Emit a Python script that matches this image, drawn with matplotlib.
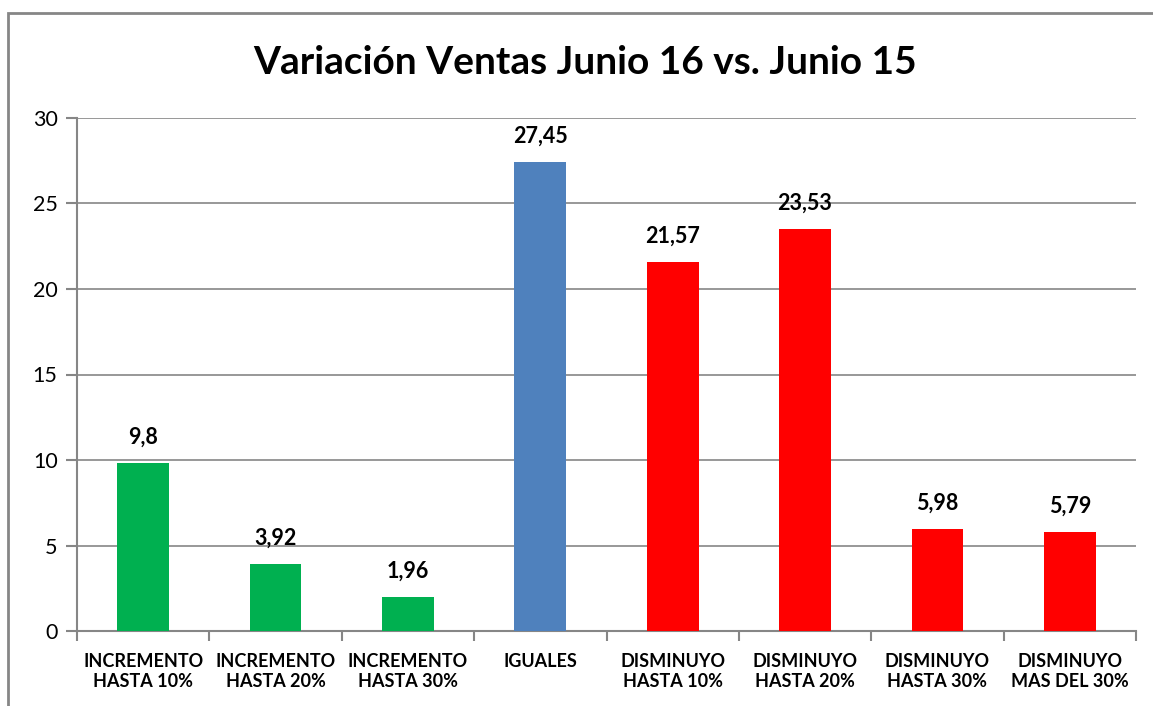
import matplotlib.pyplot as plt
from matplotlib.patches import Rectangle

categories = ["INCREMENTO\nHASTA 10%", "INCREMENTO\nHASTA 20%", "INCREMENTO\nHASTA 30%", "IGUALES",
              "DISMINUYO\nHASTA 10%", "DISMINUYO\nHASTA 20%", "DISMINUYO\nHASTA 30%", "DISMINUYO\nMAS DEL 30%"]
values = [9.8, 3.92, 1.96, 27.45, 21.57, 23.53, 5.98, 5.79]
value_labels = ["9,8", "3,92", "1,96", "27,45", "21,57", "23,53", "5,98", "5,79"]
colors = ["#00B050", "#00B050", "#00B050", "#4F81BD", "#FF0000", "#FF0000", "#FF0000", "#FF0000"]

plt.rcParams['font.family'] = ['Lato', 'DejaVu Sans']

fig = plt.figure(figsize=(11.53, 7.06), dpi=100)
fig.patches.append(Rectangle((8 / 1153, -0.1), 1.2, 1 - 13 / 706 + 0.1, transform=fig.transFigure,
                             fill=False, edgecolor='#868686', linewidth=2))
ax = fig.add_axes([77 / 1153, 1 - 631 / 706, (1136 - 77) / 1153, (631 - 118) / 706])

x = range(len(values))
ax.bar(x, values, width=0.39, color=colors, zorder=3)
for i, v in enumerate(values):
    ax.text(i, v + 0.9, value_labels[i], ha='center', va='bottom', fontsize=15.5, fontweight='bold')

ax.set_xlim(-0.5, len(values) - 0.5)
ax.set_ylim(0, 30)
ax.set_yticks([0, 5, 10, 15, 20, 25, 30])
ax.set_xticks(x)
ax.set_xticklabels(categories, fontsize=13, fontweight='bold', linespacing=1.2)
ax.set_xticks([i - 0.5 for i in range(len(values) + 1)], minor=True)
ax.tick_params(axis='x', which='major', length=0, pad=16)
ax.tick_params(axis='x', which='minor', length=7, color='#868686', width=1.5)
ax.tick_params(axis='y', length=8, color='#868686', width=1.5, labelsize=15.5, pad=6)
ax.grid(axis='y', color='#868686', linewidth=1.2, zorder=0)
for s in ['top', 'right']:
    ax.spines[s].set_visible(False)
for s in ['left', 'bottom']:
    ax.spines[s].set_color('#868686')
    ax.spines[s].set_linewidth(1.5)

fig.text(585 / 1153, 1 - 62 / 706, "Variación Ventas Junio 16 vs. Junio 15", ha='center', va='center',
         fontsize=28, fontweight='bold')

fig.savefig('out.png', dpi=100)
